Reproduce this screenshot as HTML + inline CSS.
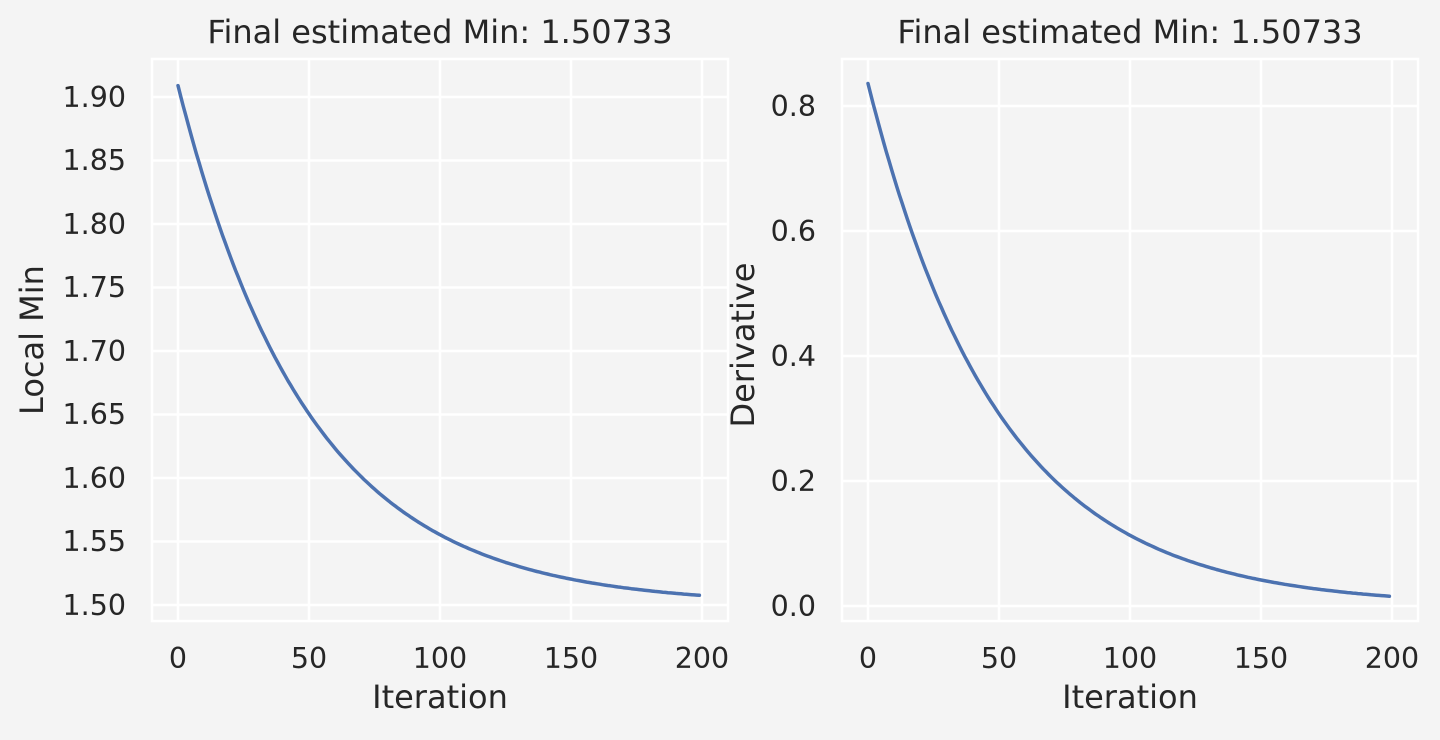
<!DOCTYPE html>
<html><head><style>body{margin:0;background:#f4f4f4}</style></head><body>
<svg width="1440" height="735" xmlns="http://www.w3.org/2000/svg" font-family="'DejaVu Sans','Liberation Sans',sans-serif" fill="#262626">
<rect width="1440" height="735" fill="#f4f4f4"/>
<g stroke="#fff" stroke-width="2.5" fill="none">
<rect x="152" y="59" width="576" height="562"/>
<path d="M178 59V621M309 59V621M440 59V621M571 59V621M702 59V621M152 97H728M152 160.5H728M152 224H728M152 287.5H728M152 351H728M152 414.5H728M152 478H728M152 541.5H728M152 605H728"/>
<rect x="842" y="59" width="576" height="562"/>
<path d="M868 59V621M999 59V621M1130 59V621M1261 59V621M1392 59V621M842 106H1418M842 231H1418M842 356H1418M842 481H1418M842 606H1418"/>
</g>
<g fill="none" stroke="#4c72b0" stroke-width="3.5" stroke-linecap="round" stroke-linejoin="round">
<polyline id="l1" points="178,85.6 204.2,179.8 230.4,256.8 256.6,320 282.8,371.6 309,413.9 335.2,448.6 361.4,476.9 387.6,500.1 413.8,519.1 440,534.7 466.2,547.5 492.4,557.9 518.6,566.4 544.8,573.4 571,579.1 597.2,583.8 623.4,587.7 649.6,590.8 675.8,593.4 699.4,595.3"/>
<polyline id="l2" points="868,83.5 894.2,178.2 920.4,255.8 946.6,319.3 972.8,371.2 999,413.8 1025.2,448.6 1051.4,477.2 1077.6,500.5 1103.8,519.6 1130,535.3 1156.2,548.1 1182.4,558.6 1208.6,567.2 1234.8,574.2 1261,580 1287.2,584.7 1313.4,588.5 1339.6,591.7 1365.8,594.3 1389.4,596.2"/>
</g>
<script>
(function(){var a=[],b=[];for(var i=0;i<200;i++){var e=Math.exp(-0.02*i);a.push((178+2.62*i).toFixed(1)+","+(605-519.4*e).toFixed(1));b.push((868+2.62*i).toFixed(1)+","+(606-522.5*e).toFixed(1));}
document.getElementById("l1").setAttribute("points",a.join(" "));document.getElementById("l2").setAttribute("points",b.join(" "));})();
</script>
<g font-size="32" text-anchor="middle">
<text x="440" y="43">Final estimated Min: 1.50733</text>
<text x="1130" y="43">Final estimated Min: 1.50733</text>
<text x="440" y="708">Iteration</text>
<text x="1130" y="708">Iteration</text>
<text transform="translate(43,340) rotate(-90)">Local Min</text>
<text transform="translate(754,345) rotate(-90)">Derivative</text>
</g>
<g font-size="28.5" text-anchor="middle">
<text x="178" y="668">0</text><text x="309" y="668">50</text><text x="440" y="668">100</text><text x="571" y="668">150</text><text x="702" y="668">200</text>
<text x="868" y="668">0</text><text x="999" y="668">50</text><text x="1130" y="668">100</text><text x="1261" y="668">150</text><text x="1392" y="668">200</text>
</g>
<g font-size="28.5" text-anchor="end">
<text x="126" y="107">1.90</text><text x="126" y="170">1.85</text><text x="126" y="234">1.80</text><text x="126" y="297">1.75</text><text x="126" y="361">1.70</text><text x="126" y="424">1.65</text><text x="126" y="488">1.60</text><text x="126" y="551">1.55</text><text x="126" y="615">1.50</text>
<text x="816" y="116">0.8</text><text x="816" y="241">0.6</text><text x="816" y="366">0.4</text><text x="816" y="491">0.2</text><text x="816" y="616">0.0</text>
</g>
</svg>
</body></html>
